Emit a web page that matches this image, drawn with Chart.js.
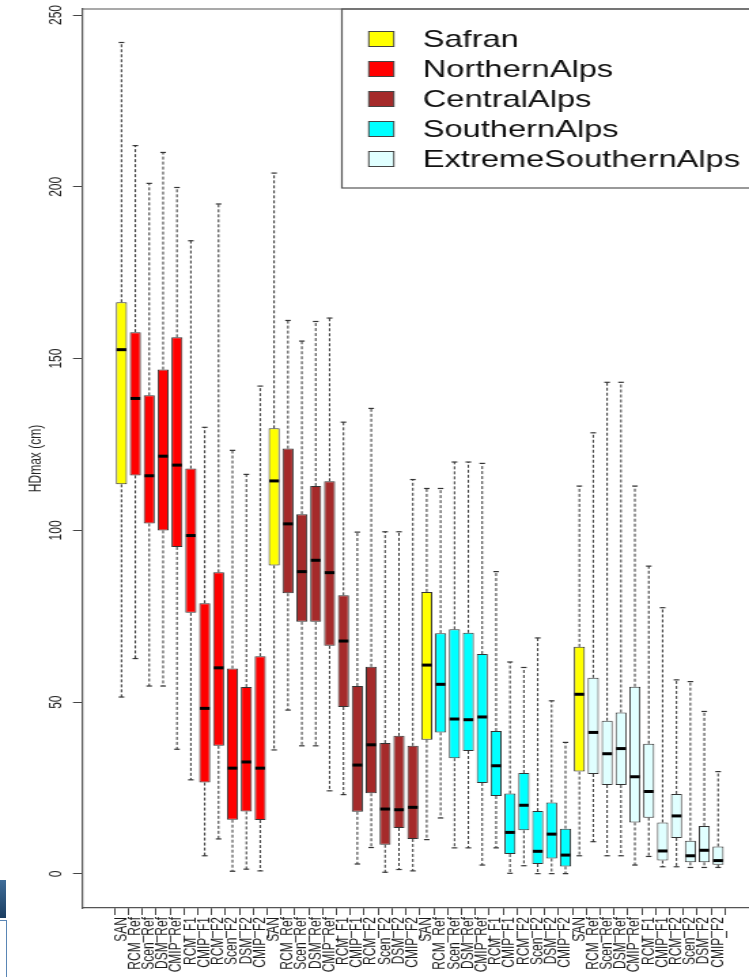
<!DOCTYPE html>
<html lang="en">
<head>
<meta charset="UTF-8">
<title>HDmax by region</title>
<script src="https://cdn.jsdelivr.net/npm/chart.js@4.4.1/dist/chart.umd.min.js"></script>
<style>
  body { margin: 0; background: #fff; overflow: hidden; }
  #wrap { position: relative; width: 749px; height: 977px; }
  #chart { position: absolute; left: 0; top: 0; }
  .edge1 { position: absolute; left: 0; top: 880px; width: 6px; height: 38px; background: linear-gradient(#3f6d99, #1b3d60); }
  .edge2 { position: absolute; left: -2px; top: 920px; width: 7px; height: 60px; border: 1px solid #5a86b5; background: #fff; }
</style>
</head>
<body>
<div id="wrap">
  <!-- the R plot is stretched horizontally, so the canvas is drawn narrow and widened -->
  <canvas id="chart" width="551" height="977" style="width:749px;height:977px"></canvas>
  <div class="edge1"></div>
  <div class="edge2"></div>
</div>
<script>
const categories = ['SAN', 'RCM_Ref', 'Scen_Ref', 'DSM_Ref', 'CMIP_Ref', 'RCM_F1', 'CMIP_F1', 'RCM_F2', 'Scen_F2', 'DSM_F2', 'CMIP_F2'];
const regions = ['NorthernAlps', 'CentralAlps', 'SouthernAlps', 'ExtremeSouthernAlps'];
const seriesNames = ['Safran', 'NorthernAlps', 'CentralAlps', 'SouthernAlps', 'ExtremeSouthernAlps'];
const seriesColors = ['#ffff00', '#ff0000', '#a52a2a', '#00ffff', '#e0ffff'];
const yTicks = [0, 50, 100, 150, 200, 250];

// 11 boxes per region, in the order of categories
const whiskerLow = [
  51.5, 62.7, 54.7, 54.7, 36.3, 27.4, 5.3, 10.2, 0.8, 1.4, 0.9,
  36.1, 47.7, 37.3, 37.3, 24.2, 23.1, 2.9, 7.7, 0.5, 1.3, 0.9,
  10, 16.3, 7.6, 7.6, 2.6, 7.6, 0.2, 2.4, 0.1, 0.1, 0.1,
  5.3, 9.4, 5.3, 5.3, 2.6, 5.1, 2.1, 2.1, 1.9, 1.9, 1.9
];
const q1 = [
  113.4, 116, 102, 100, 95.2, 76, 26.6, 37.3, 15.8, 18.2, 15.7,
  89.8, 81.7, 73.4, 73.4, 66.4, 48.6, 18.1, 23.5, 8.5, 13.4, 10.2,
  39.1, 41.2, 33.7, 35.8, 26.5, 22.7, 5.8, 12.7, 2.9, 4.5, 2.2,
  29.8, 29.1, 25.9, 25.9, 15, 16.4, 3.9, 10.5, 3.4, 3.4, 2.7
];
const median = [
  152.6, 138.4, 115.9, 121.6, 119, 98.5, 48.2, 60, 30.8, 32.6, 30.8,
  114.4, 101.9, 88, 91.3, 87.7, 67.8, 31.7, 37.6, 18.9, 18.7, 19.4,
  60.8, 55.2, 45.1, 44.9, 45.7, 31.5, 12.1, 20, 6.6, 11.6, 5.5,
  52.3, 41.2, 35, 36.5, 28.3, 24, 6.7, 16.9, 5.3, 6.9, 3.9
];
const q3 = [
  166.4, 157.7, 139.3, 146.8, 156.2, 118, 78.8, 87.8, 59.8, 54.4, 63.4,
  129.7, 123.8, 104.7, 112.9, 114.3, 81.1, 54.7, 60.3, 38.1, 40.2, 37.3,
  82.1, 70.1, 71.2, 70.2, 64, 41.6, 23.4, 29.4, 18.3, 20.8, 13.2,
  66.1, 57.1, 44.6, 47, 54.5, 37.9, 15, 23.3, 9.7, 14, 8
];
const whiskerHigh = [
  242, 212, 201, 210, 199.8, 184.3, 130, 195, 123.3, 116.3, 142,
  204, 161.1, 155.1, 160.8, 161.8, 131.5, 99.5, 135.5, 99.6, 99.6, 114.8,
  112.2, 112.2, 119.9, 119.9, 119.5, 88, 61.7, 60.1, 68.7, 50.4, 38.3,
  112.9, 128.4, 143.1, 143.1, 112.9, 89.6, 77.5, 56.5, 56, 47.3, 29.8
];

const labels = regions.flatMap(() => categories);
const font = '"Liberation Sans", Arial, sans-serif';
Chart.defaults.font.family = font;

// one dataset per legend entry; SAN boxes go to Safran
const datasets = seriesNames.map((name, s) => {
  const data = [];
  labels.forEach((lab, i) => {
    const region = Math.floor(i / categories.length) + 1;
    const isSafran = lab === 'SAN';
    if ((s === 0 && isSafran) || (s === region && !isSafran)) {
      data.push({ x: i + 1, y: [q1[i], q3[i]] });
    }
  });
  return {
    label: name,
    data: data,
    backgroundColor: seriesColors[s],
    borderColor: '#333',
    borderWidth: 1,
    borderSkipped: false,
    grouped: false,
    barPercentage: 0.8,
    categoryPercentage: 1
  };
});

// whiskers, staples and medians
const boxParts = {
  id: 'boxParts',
  afterDatasetsDraw(chart) {
    const ctx = chart.ctx;
    const y = chart.scales.y;
    const line = (x1, y1, x2, y2) => { ctx.beginPath(); ctx.moveTo(x1, y1); ctx.lineTo(x2, y2); ctx.stroke(); };
    ctx.save();
    chart.data.datasets.forEach((ds, d) => {
      chart.getDatasetMeta(d).data.forEach((bar, j) => {
        const i = ds.data[j].x - 1;
        const half = bar.width / 2;
        const yHi = y.getPixelForValue(whiskerHigh[i]);
        const yLo = y.getPixelForValue(whiskerLow[i]);
        ctx.strokeStyle = '#333';
        ctx.lineWidth = 1;
        ctx.setLineDash([3, 2]);
        line(bar.x, y.getPixelForValue(q3[i]), bar.x, yHi);
        line(bar.x, y.getPixelForValue(q1[i]), bar.x, yLo);
        ctx.setLineDash([]);
        ctx.lineWidth = 1.2;
        line(bar.x - half / 2, yHi, bar.x + half / 2, yHi);
        line(bar.x - half / 2, yLo, bar.x + half / 2, yLo);
        ctx.strokeStyle = '#000';
        ctx.lineWidth = 3;
        const ym = y.getPixelForValue(median[i]);
        line(bar.x - half + 0.5, ym, bar.x + half - 0.5, ym);
      });
    });
    ctx.restore();
  },
  afterDraw(chart) {
    const ctx = chart.ctx;
    const area = chart.chartArea;
    ctx.save();
    ctx.strokeStyle = '#555';
    ctx.lineWidth = 1.2;
    // top of the frame
    ctx.beginPath();
    ctx.moveTo(area.left, area.top);
    ctx.lineTo(area.right + 5, area.top);
    ctx.stroke();
    // legend box in the top right corner
    ctx.strokeRect(251.5, area.top, 400, 179);
    ctx.font = '24px ' + font;
    ctx.textBaseline = 'middle';
    seriesNames.forEach((name, s) => {
      const cy = 39 + s * 30;
      ctx.fillStyle = seriesColors[s];
      ctx.fillRect(271.3, cy - 7.5, 18.4, 15);
      ctx.strokeStyle = '#444';
      ctx.lineWidth = 1;
      ctx.strokeRect(271.3, cy - 7.5, 18.4, 15);
      ctx.fillStyle = '#111';
      ctx.fillText(name, 311, cy + 1);
    });
    ctx.restore();
  }
};

new Chart(document.getElementById('chart'), {
  type: 'bar',
  data: { datasets: datasets },
  plugins: [boxParts],
  options: {
    responsive: false,
    devicePixelRatio: 1,
    animation: false,
    layout: { padding: { top: 9, left: 0, right: 0, bottom: 0 } },
    plugins: { legend: { display: false }, tooltip: { enabled: false } },
    scales: {
      x: {
        type: 'linear',
        min: -1.3,
        max: 45.68,
        afterBuildTicks: s => { s.ticks = labels.map((_, i) => ({ value: i + 1 })); },
        afterFit: s => { s.height = 69; s.paddingLeft = 0; s.paddingRight = 0; },
        ticks: {
          autoSkip: false,
          minRotation: 90,
          maxRotation: 90,
          padding: 2,
          color: '#1a1a1a',
          font: { size: 12 },
          callback: v => labels[v - 1]
        },
        grid: { drawOnChartArea: false, tickLength: 7, color: '#444' },
        border: { display: true, color: '#555', width: 1.2 }
      },
      y: {
        min: -9.9,
        max: 251.75,
        afterBuildTicks: s => { s.ticks = yTicks.map(v => ({ value: v })); },
        afterFit: s => { s.width = 60.3; s.paddingTop = 0; s.paddingBottom = 0; },
        ticks: {
          minRotation: 90,
          maxRotation: 90,
          crossAlign: 'center',
          padding: 2.5,
          color: '#222',
          font: { size: 12 }
        },
        grid: { drawOnChartArea: false, tickLength: 6.6, color: '#444' },
        border: { display: true, color: '#555', width: 1.2 },
        title: {
          display: true,
          text: 'HDmax (cm)',
          color: '#222',
          font: { size: 12 },
          padding: { top: 19, bottom: 0 }
        }
      }
    }
  }
});
</script>
</body>
</html>
